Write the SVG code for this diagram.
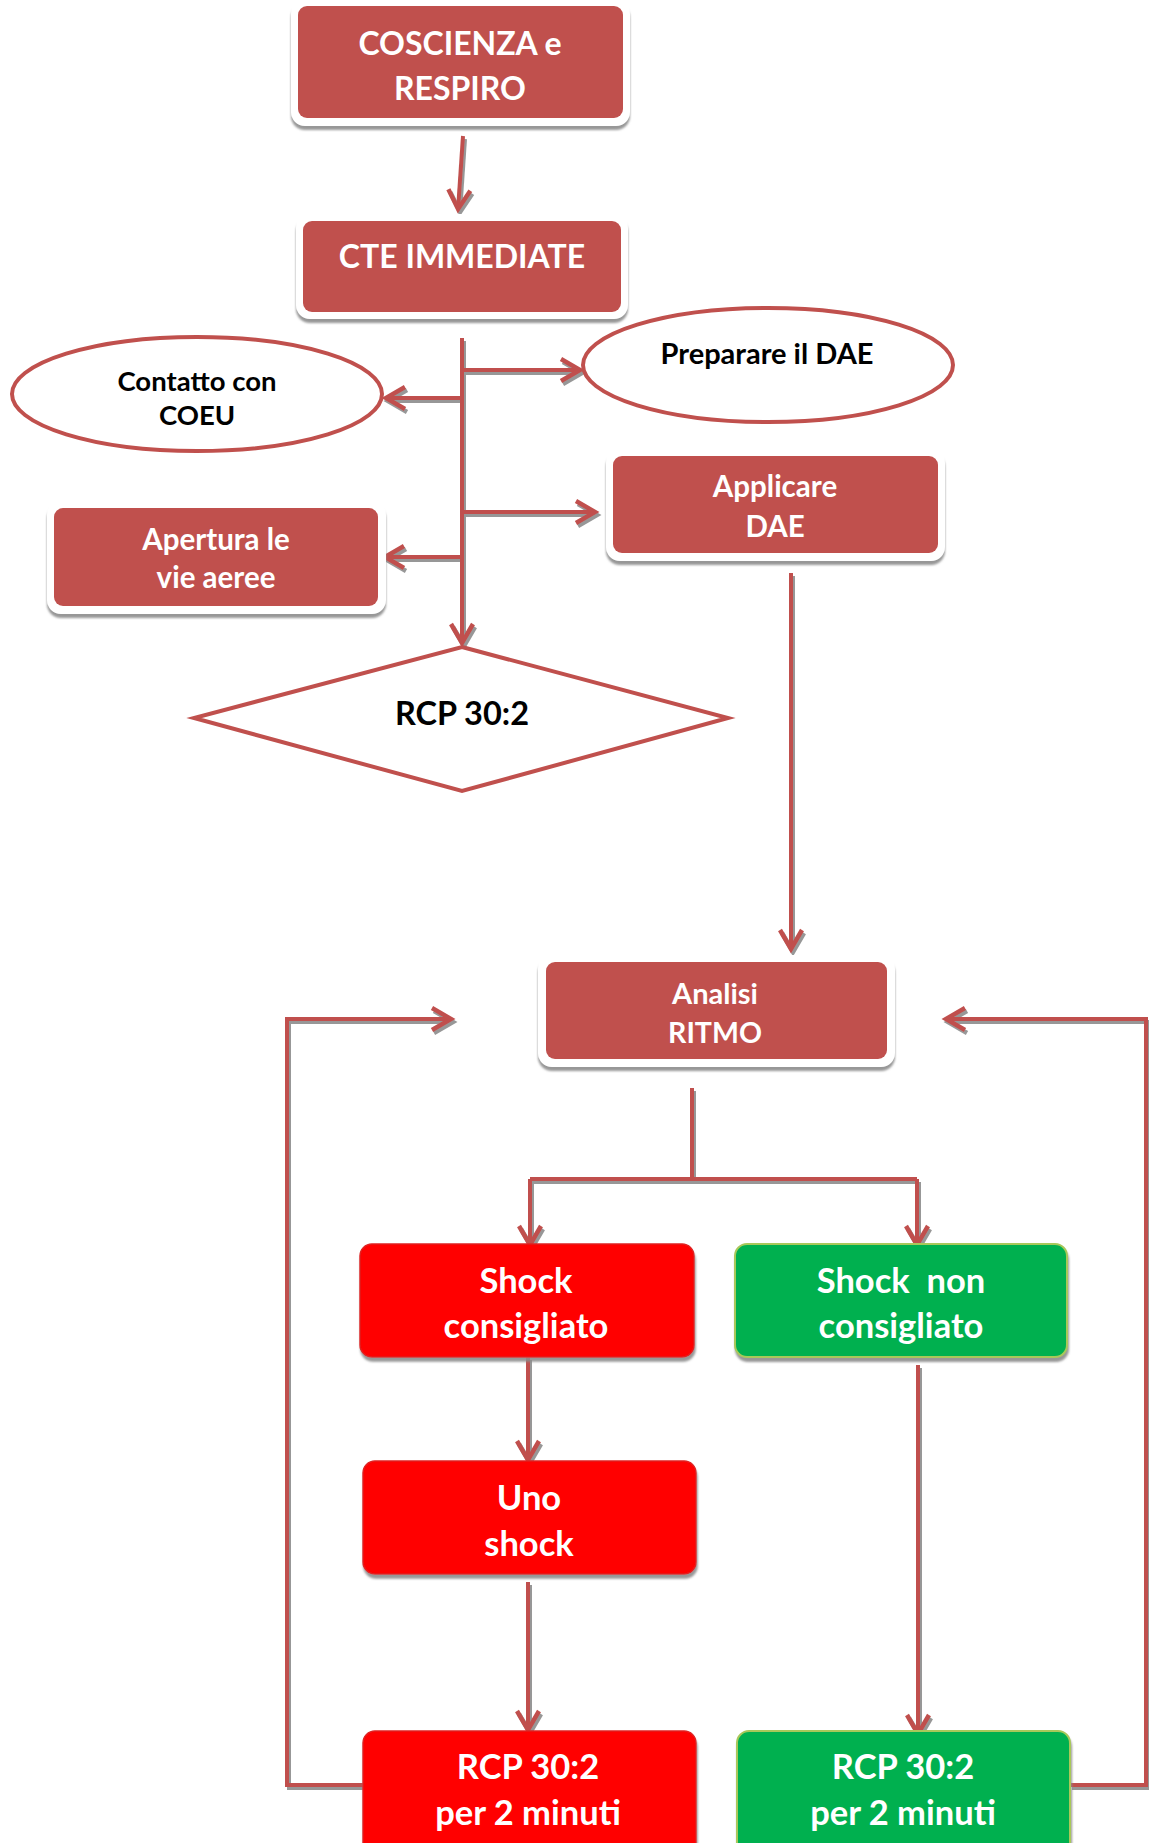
<svg xmlns="http://www.w3.org/2000/svg" width="1149" height="1843" viewBox="0 0 1149 1843">
<defs>
<style>
.t{font-family:Lato,"Open Sans","Liberation Sans",sans-serif;font-weight:bold;text-anchor:middle}
.w{fill:#ffffff}
.k{fill:#000000}
.frame{fill:#ffffff;filter:url(#fsh)}
.rb{fill:#C0504D}
.red{fill:#FF0000;stroke:#E02020;stroke-width:1.5;filter:url(#bsh)}
.grn{fill:#00B050;stroke:#A8C85A;stroke-width:2;filter:url(#bsh)}
.ol{fill:#ffffff;stroke:#C0504D;stroke-width:4}
.c{fill:none;stroke:#C0504D;stroke-width:4}
.a{marker-end:url(#ah)}
</style>
<filter id="fsh" x="-10%" y="-10%" width="120%" height="130%">
<feDropShadow dx="0" dy="4" stdDeviation="1" flood-color="#8c8c8c" flood-opacity="0.9"/>
</filter>
<filter id="bsh" x="-10%" y="-10%" width="120%" height="130%">
<feDropShadow dx="1" dy="4" stdDeviation="0.8" flood-color="#8c8c8c" flood-opacity="0.9"/>
</filter>
<filter id="csh" x="-5%" y="-5%" width="110%" height="110%">
<feDropShadow dx="2" dy="3" stdDeviation="0.6" flood-color="#8c8c8c" flood-opacity="0.9"/>
</filter>
<marker id="ah" markerUnits="userSpaceOnUse" markerWidth="30" markerHeight="30" viewBox="-24 -15 30 30" refX="0" refY="0" orient="auto">
<path d="M-20,-11 L-1,0 L-20,11" fill="none" stroke="#C0504D" stroke-width="4.5"/>
</marker>
</defs>
<rect width="1149" height="1843" fill="#ffffff"/>

<g id="connectors" filter="url(#csh)">
<path class="c a" d="M463,136 L458,210"/>
<path class="c a" d="M462,338 L462,644"/>
<path class="c a" d="M462,398 L385,398"/>
<path class="c a" d="M462,370 L581,370"/>
<path class="c a" d="M462,512 L596,512"/>
<path class="c a" d="M462,557 L384,557"/>
<path class="c a" d="M791,573 L791,950"/>
<path class="c" d="M692,1088 L692,1181"/>
<path class="c" d="M530,1179 L917,1179"/>
<path class="c a" d="M530,1179 L530,1246"/>
<path class="c a" d="M917,1179 L917,1246"/>
<path class="c a" d="M528,1357 L528,1461"/>
<path class="c a" d="M528,1582 L528,1731"/>
<path class="c a" d="M918,1365 L918,1735"/>
<path class="c a" d="M363,1785 L287,1785 L287,1019 L452,1019"/>
<path class="c a" d="M1070,1785 L1146,1785 L1146,1019 L945,1019"/>
</g>

<g id="n-coscienza">
<rect class="frame" x="291" y="0" width="339" height="126" rx="14"/>
<rect class="rb" x="298" y="6" width="325" height="112" rx="9"/>
<text class="t w" x="460" y="55" font-size="32">COSCIENZA e</text>
<text class="t w" x="460" y="100" font-size="32">RESPIRO</text>
</g>

<g id="n-cte">
<rect class="frame" x="296" y="214" width="332" height="105" rx="14"/>
<rect class="rb" x="303" y="221" width="318" height="91" rx="9"/>
<text class="t w" x="462" y="268" font-size="32">CTE IMMEDIATE</text>
</g>

<g id="n-contatto">
<ellipse class="ol" cx="197" cy="394" rx="185" ry="57"/>
<text class="t k" x="197" y="391" font-size="27.5">Contatto con</text>
<text class="t k" x="197" y="425" font-size="27.5">COEU</text>
</g>

<g id="n-preparare">
<ellipse class="ol" cx="768" cy="365" rx="185" ry="57"/>
<text class="t k" x="767" y="364" font-size="29">Preparare il DAE</text>
</g>

<g id="n-apertura">
<rect class="frame" x="47" y="501" width="339" height="113" rx="14"/>
<rect class="rb" x="54" y="508" width="324" height="98" rx="9"/>
<text class="t w" x="216" y="550" font-size="29.5">Apertura le</text>
<text class="t w" x="216" y="588" font-size="29.5">vie aeree</text>
</g>

<g id="n-applicare">
<rect class="frame" x="606" y="449" width="339" height="112" rx="14"/>
<rect class="rb" x="613" y="456" width="325" height="97" rx="9"/>
<text class="t w" x="775" y="497" font-size="29.5">Applicare</text>
<text class="t w" x="775" y="537" font-size="29.5">DAE</text>
</g>

<g id="n-rcp">
<polygon class="ol" points="462,647 728,718 462,791 194,718"/>
<text class="t k" x="462" y="725" font-size="32.5">RCP 30:2</text>
</g>

<g id="n-analisi">
<rect class="frame" x="538" y="955" width="357" height="112" rx="14"/>
<rect class="rb" x="546" y="962" width="341" height="97" rx="9"/>
<text class="t w" x="715" y="1004" font-size="29">Analisi</text>
<text class="t w" x="715" y="1043" font-size="28.5">RITMO</text>
</g>

<g id="n-shock">
<rect class="red" x="360" y="1244" width="334" height="113" rx="12"/>
<text class="t w" x="526" y="1293" font-size="34.5">Shock</text>
<text class="t w" x="526" y="1338" font-size="34.5">consigliato</text>
</g>

<g id="n-noshock">
<rect class="grn" x="735" y="1244" width="332" height="113" rx="12"/>
<text class="t w" x="901" y="1293" font-size="34.5" xml:space="preserve">Shock  non</text>
<text class="t w" x="901" y="1338" font-size="34.5">consigliato</text>
</g>

<g id="n-uno">
<rect class="red" x="363" y="1461" width="333" height="113" rx="12"/>
<text class="t w" x="529" y="1510" font-size="34.5">Uno</text>
<text class="t w" x="529" y="1556" font-size="34.5">shock</text>
</g>

<g id="n-rcp-red">
<rect class="red" x="363" y="1731" width="333" height="130" rx="12"/>
<text class="t w" x="528" y="1779" font-size="34.5">RCP 30:2</text>
<text class="t w" x="528" y="1825" font-size="34.5">per 2 minuti</text>
</g>

<g id="n-rcp-green">
<rect class="grn" x="737" y="1731" width="333" height="130" rx="12"/>
<text class="t w" x="903" y="1779" font-size="34.5">RCP 30:2</text>
<text class="t w" x="903" y="1825" font-size="34.5">per 2 minuti</text>
</g>
</svg>
